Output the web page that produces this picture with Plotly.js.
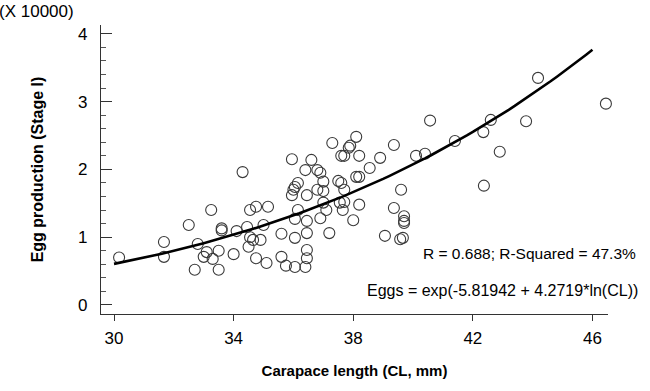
<!DOCTYPE html>
<html>
<head>
<meta charset="utf-8">
<script src="https://cdn.plot.ly/plotly-3.0.1.min.js"></script>
<style>html,body{margin:0;padding:0;background:#fff;}#chart{width:650px;height:391px;}</style>
</head>
<body>
<div id="chart"></div>
<script>
// Carapace length (mm)
const carapaceLength = [
  30.17, 31.67, 31.67, 32.5, 33.25, 33.6, 33.6, 34.1, 32.8, 33.1,
  33.0, 33.3, 33.5, 34.0, 32.7, 33.5,
  38.1, 37.3, 37.9, 37.85, 37.6, 37.7, 38.2, 35.95, 36.6, 34.3,
  36.4, 36.8, 36.9, 38.55, 36.15, 36.05, 36.0, 35.95, 37.0, 37.5,
  37.6, 38.1, 38.2, 36.8, 37.0, 37.7, 36.45, 34.55, 34.75, 35.15,
  36.15, 37.0, 37.55, 37.7, 38.2, 37.1, 37.65, 36.05, 36.45, 36.9,
  38.0, 34.45, 35.0, 34.55, 34.65, 34.9, 34.5, 35.6, 36.05, 36.45,
  37.2, 34.75, 35.1, 35.6, 35.75, 36.05, 36.4, 36.45, 36.45,
  40.57, 39.36, 38.9, 40.1, 40.4, 39.6,
  42.9, 42.37, 39.36, 39.7, 39.7, 39.7, 39.06, 39.57, 39.66,
  44.18, 46.45, 42.6, 43.78, 42.35, 41.4
];
// Egg production (x 10000)
const eggProduction = [
  0.70, 0.93, 0.71, 1.18, 1.40, 1.13, 1.10, 1.09, 0.90, 0.78,
  0.71, 0.68, 0.80, 0.75, 0.52, 0.52,
  2.48, 2.39, 2.35, 2.32, 2.20, 2.20, 2.20, 2.15, 2.14, 1.96,
  1.99, 1.99, 1.95, 2.02, 1.80, 1.74, 1.70, 1.62, 1.82, 1.83,
  1.80, 1.89, 1.89, 1.70, 1.68, 1.70, 1.62, 1.40, 1.45, 1.45,
  1.40, 1.51, 1.51, 1.52, 1.48, 1.40, 1.40, 1.27, 1.24, 1.28,
  1.25, 1.15, 1.18, 1.00, 0.96, 0.96, 0.86, 1.05, 0.99, 1.06,
  1.06, 0.69, 0.62, 0.71, 0.58, 0.56, 0.56, 0.81, 0.69,
  2.72, 2.36, 2.17, 2.20, 2.23, 1.70,
  2.26, 1.76, 1.43, 1.31, 1.24, 1.21, 1.02, 0.97, 0.99,
  3.35, 2.97, 2.73, 2.71, 2.55, 2.42
];
// Fitted model: Eggs = exp(a + b*ln(CL)), plotted in units of 10000
const fitIntercept = -5.81942;
const fitSlope = 4.2719;
const fitScale = 10000;
const fitCL = [];
for (let i = 0; i <= 80; i++) fitCL.push(30 + i * 0.2);
const fitEggs = fitCL.map(cl => Math.exp(fitIntercept + fitSlope * Math.log(cl)) / fitScale);

const xTickVals = [30, 34, 38, 42, 46];
const yTickVals = [0, 1, 2, 3, 4];
const statsText = "R = 0.688; R-Squared = 47.3%";
const eqText = "Eggs = exp(-5.81942 + 4.2719*ln(CL))";
const multiplierText = "(X 10000)";

const FONT = "Arial, 'Liberation Sans', sans-serif";

const traces = [
  {
    x: carapaceLength, y: eggProduction, type: 'scatter', mode: 'markers',
    marker: {symbol: 'circle-open', size: 11, color: '#3a3a3a', line: {width: 1.1, color: '#3a3a3a'}},
    cliponaxis: false, hoverinfo: 'skip'
  },
  {
    x: fitCL, y: fitEggs, type: 'scatter', mode: 'lines',
    line: {color: '#000', width: 2.6}, hoverinfo: 'skip'
  }
];

const layout = {
  width: 650, height: 391,
  margin: {l: 101, r: 42, t: 25, b: 77},
  paper_bgcolor: '#fff', plot_bgcolor: '#fff',
  showlegend: false,
  font: {family: FONT, color: '#000', size: 15},
  xaxis: {
    range: [29.565, 46.52], tickvals: xTickVals, ticktext: xTickVals.map(String),
    ticks: 'outside', ticklen: 6, tickwidth: 1, tickcolor: '#333',
    showline: true, linecolor: '#333', linewidth: 1.2, showgrid: false, zeroline: false,
    tickfont: {family: FONT, size: 17, color: '#000'}, ticklabelstandoff: 2,
    title: {text: '<b>Carapace length (CL, mm)</b>', font: {family: FONT, size: 15, color: '#000'}, standoff: 19}
  },
  yaxis: {
    range: [-0.133, 4.13], tickvals: yTickVals, ticktext: yTickVals.map(String),
    ticks: 'inside', ticklen: 11, tickwidth: 1, tickcolor: '#333',
    minor: {dtick: 0.2, ticks: 'inside', ticklen: 5, tickwidth: 1, tickcolor: '#555', showgrid: false},
    showline: true, linecolor: '#333', linewidth: 1.2, showgrid: false, zeroline: false,
    tickfont: {family: FONT, size: 17, color: '#000'}, ticklabelstandoff: 9,
    title: {text: '<b>Egg production (Stage I)</b>', font: {family: FONT, size: 16, color: '#000'}, standoff: 30}
  },
  annotations: [
    {xref: 'paper', yref: 'paper', x: -0.049, y: 1.045, xanchor: 'right', yanchor: 'middle',
     text: multiplierText, showarrow: false, font: {family: FONT, size: 17, color: '#000'}},
    {xref: 'paper', yref: 'paper', x: 1.059, y: 0.211, xanchor: 'right', yanchor: 'middle',
     text: statsText, showarrow: false, font: {family: FONT, size: 15.5, color: '#000'}},
    {xref: 'paper', yref: 'paper', x: 1.063, y: 0.083, xanchor: 'right', yanchor: 'middle',
     text: eqText, showarrow: false, font: {family: FONT, size: 16, color: '#000'}}
  ]
};

Plotly.newPlot('chart', traces, layout, {staticPlot: true, displayModeBar: false});
</script>
</body>
</html>
